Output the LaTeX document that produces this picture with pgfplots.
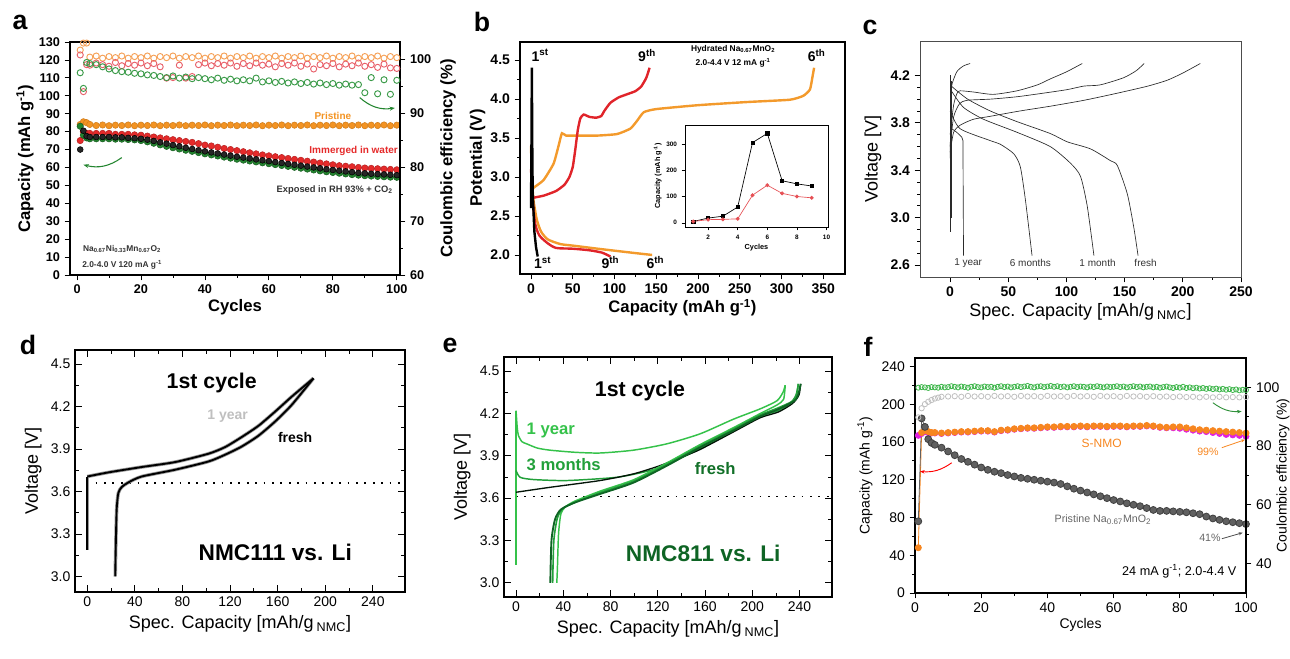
\documentclass[border=0pt]{standalone}
\usepackage{fontspec}
\setmainfont{Liberation Sans}
\usepackage{pgfplots}
\usepackage{pgfplotstable}
\pgfplotsset{compat=1.18}
\usetikzlibrary{arrows.meta}

\definecolor{aorange}{HTML}{F39322}
\definecolor{ared}{HTML}{E52A2A}
\definecolor{agreen}{HTML}{23852F}
\definecolor{ceorange}{HTML}{F5A056}
\definecolor{cered}{HTML}{E8606A}
\definecolor{cegreen}{HTML}{3A9A48}
\definecolor{borange}{HTML}{F39A2C}
\definecolor{bred}{HTML}{E0242A}
\definecolor{cline}{HTML}{2A2A2A}
\definecolor{eyear}{HTML}{35C24A}
\definecolor{emonth}{HTML}{22A03A}
\definecolor{efresh}{HTML}{0E6424}
\definecolor{fgrey}{HTML}{606060}
\definecolor{forange}{HTML}{F7861F}
\definecolor{fmag}{HTML}{E020E0}
\definecolor{fgreen}{HTML}{3DB54A}

\newcommand{\fs}[1]{\fontsize{#1}{#1}\selectfont}

\pgfplotsset{
  panel/.style={scale only axis, anchor=south west,
    /pgf/number format/assume math mode=true,
    tick style={black, line width=0.6pt},
    major tick length=4pt, minor tick length=2.2pt,
    axis line style={line width=0.8pt}},
  onedec/.style={yticklabel style={/pgf/number format/fixed,
    /pgf/number format/fixed zerofill, /pgf/number format/precision=1}},
}

% panel a: capacity and coulombic efficiency
\pgfplotstableread{
c pri imm blk grn cpri cimm cgrn
1 84.0 75.0 70.0 83.0 101.7 100.8 97.5
2 85.5 80.0 80.5 78.0 103.0 94.0 94.6
3 85.0 79.0 77.5 76.5 103.0 99.0 99.4
4 84.0 79.0 77.0 76.0 100.4 98.9 99.2
6 83.4 79.0 77.0 76.0 100.6 99.3 99.0
8 83.7 79.0 77.0 76.0 100.2 99.0 98.6
10 83.3 79.0 77.0 76.0 100.5 98.7 98.2
12 83.6 78.5 76.8 75.8 100.3 99.4 97.9
14 83.4 78.5 76.8 75.8 100.6 98.8 97.7
16 83.7 78.5 76.5 75.6 100.2 99.2 97.6
18 83.3 78.2 76.3 75.4 100.5 98.9 97.4
20 83.6 78.0 76.0 75.0 100.3 99.3 97.3
22 83.4 77.5 75.5 74.3 100.6 98.8 97.1
24 83.7 77.0 74.8 73.5 100.2 99.2 97.0
26 83.3 76.5 74.0 72.6 100.5 98.6 96.8
28 83.6 76.0 73.3 71.8 100.3 96.5 96.6
30 83.4 75.5 72.5 71.0 100.6 96.6 96.9
32 83.7 75.0 71.8 70.3 100.2 98.9 96.5
34 83.3 74.5 71.0 69.6 100.5 96.5 96.7
36 83.6 74.0 70.3 69.0 100.3 96.8 96.4
38 83.4 73.3 69.6 68.3 100.6 99.0 96.6
40 83.7 72.5 69.0 67.6 100.2 99.3 96.4
42 83.3 72.0 68.4 67.0 100.5 98.8 96.2
44 83.6 71.3 67.8 66.4 100.3 99.2 96.5
46 83.4 70.6 67.2 65.8 100.6 98.9 96.1
48 83.7 70.0 66.6 65.2 100.2 99.3 96.3
50 83.3 69.4 66.0 64.6 100.5 98.7 96.0
52 83.6 68.8 65.5 64.1 100.3 99.2 96.2
54 83.4 68.2 65.0 63.6 100.6 98.8 96.0
56 83.7 67.6 64.5 63.1 100.2 99.3 96.5
58 83.3 67.0 64.0 62.6 100.5 98.9 95.8
60 83.6 66.5 63.5 62.1 100.3 99.1 96.0
62 83.4 66.0 63.0 61.6 100.6 98.6 95.7
64 83.7 65.5 62.5 61.1 100.2 99.2 95.9
66 83.3 65.0 62.0 60.6 100.5 98.9 95.6
68 83.6 64.5 61.5 60.1 100.3 99.3 95.8
70 83.4 64.0 61.0 59.6 100.6 98.7 95.5
72 83.7 63.5 60.5 59.1 100.2 99.1 95.7
74 83.3 63.0 60.0 58.6 100.5 98.2 95.4
76 83.6 62.5 59.5 58.1 100.3 99.0 95.6
78 83.4 62.0 59.0 57.6 100.6 98.8 95.3
80 83.7 61.5 58.6 57.2 100.2 99.2 95.5
82 83.3 61.0 58.2 56.8 100.5 98.6 95.2
84 83.6 60.7 57.8 56.4 100.3 99.1 95.4
86 83.4 60.4 57.4 56.0 100.6 98.8 95.2
88 83.7 60.0 57.0 55.7 100.2 99.3 95.3
90 83.3 59.7 56.7 55.4 100.5 98.7 93.8
92 83.6 59.5 56.5 55.2 100.3 99.0 96.6
94 83.4 59.3 56.3 55.0 100.6 98.5 93.6
96 83.7 59.1 56.1 54.8 100.2 99.1 96.2
98 83.3 58.9 55.9 54.6 100.5 98.4 93.5
100 83.6 58.7 55.7 54.5 100.3 98.3 96.1
}\dataA

% panel f: capacity
\pgfplotstableread{
c snmo mag pri
1 48 167 76
2 170 169 185
3 172 171 176
4 171 170 163
5 170 169.5 159
6 170 169.5 157
8 169.5 169 154
10 170 169.5 150
12 170.5 170 146
14 171 170.5 142
16 171 170.5 139
18 171.5 171 136
20 172 171.5 133
22 172 171.5 130.5
24 171 170.5 128.5
26 172.5 172 127
28 173 172.5 125
30 174 173.5 123.5
32 174.5 174 122
34 175 174.5 121
36 175 174.5 120
38 175.5 175 119
40 176 175.5 118
42 176 175.5 117
44 176.5 176 115.5
46 176.5 176 113
48 176.5 176 110.5
50 177 176.5 108.5
52 176.5 176 106.5
54 177 176.5 104.5
56 177 176.5 102.5
58 176.5 176 100.5
60 177 176.5 98.5
62 177 176.5 97
64 176.5 176 95
66 177 176.5 93.5
68 177 176.5 92
70 177.5 177 90
72 177 176.5 88
74 176 175.5 87
76 175.5 175 87
78 176 175 86.5
80 176 174.5 86
82 175 173.5 85.5
84 174 172.5 84.5
86 173 171.5 83.5
88 172.5 171 81
90 172 170 79
92 171.5 169 77.5
94 171 168 76
96 170.5 167.5 75
98 170 167 74
100 169.5 166 73
}\dataF

\begin{document}
\begin{tikzpicture}
\path[use as bounding box] (0pt,0pt) rectangle (967.5pt,493.5pt);

% ---------------- a ----------------
\begin{axis}[panel, at={(52.5pt,287.25pt)}, width=247.5pt, height=174.75pt,
  xmin=-2.2, xmax=101, ymin=0, ymax=130,
  xtick={0,20,...,100}, minor x tick num=1, ytick={0,10,...,130},
  tick align=outside, tick pos=left,
  tick label style={font=\fs{9.5}\bfseries},
  label style={font=\fs{12.5}\bfseries},
  xlabel={Cycles}, ylabel={Capacity (mAh g\textsuperscript{-1})},
  xlabel style={yshift=3pt}, ylabel style={yshift=-3pt}]
\addplot[only marks, mark=*, mark size=2.4pt, mark options={fill=aorange, draw=aorange!85!black}] table[x=c, y=pri] {\dataA};
\addplot[only marks, mark=*, mark size=2.4pt, mark options={fill=ared, draw=ared!80!black}] table[x=c, y=imm] {\dataA};
\addplot[only marks, mark=*, mark size=2.4pt, mark options={fill=agreen, draw=agreen!70!black}] table[x=c, y=grn] {\dataA};
\addplot[only marks, mark=*, mark size=2.2pt, mark options={fill=black!85, draw=black}] table[x=c, y=blk] {\dataA};
\node[font=\fs{7.5}\bfseries, text=aorange] at (axis cs:80,89) {Pristine};
\node[font=\fs{7.5}\bfseries, text=ared] at (axis cs:86.5,69) {Immerged in water};
\node[font=\fs{7}\bfseries, text=black!80] at (axis cs:80.6,47.5) {Exposed in RH 93\% + CO\textsubscript{2}};
\node[font=\fs{6.3}\bfseries, text=black!80] at (axis cs:14.1,14.6) {Na\textsubscript{0.67}Ni\textsubscript{0.33}Mn\textsubscript{0.67}O\textsubscript{2}};
\node[font=\fs{6.3}\bfseries, text=black!80] at (axis cs:14.1,5.6) {2.0-4.0 V 120 mA g\textsuperscript{-1}};
\draw[agreen, line width=0.8pt, -{Stealth[length=4pt]}] (axis cs:88.4,99) to[bend right=25] (axis cs:99.4,93.2);
\draw[agreen, line width=0.8pt, -{Stealth[length=4pt]}] (axis cs:14,65.5) to[bend left=25] (axis cs:2,61.5);
\end{axis}
\begin{axis}[panel, at={(52.5pt,287.25pt)}, width=247.5pt, height=174.75pt,
  xmin=-2.2, xmax=101, ymin=60, ymax=103.2,
  axis x line=none, axis y line*=right, ytick={60,70,...,100}, minor y tick num=1,
  tick align=outside,
  tick label style={font=\fs{9.5}\bfseries},
  label style={font=\fs{12.5}\bfseries},
  ylabel={Coulombic efficiency (\%)}]
\addplot[only marks, mark=o, mark size=2.3pt, mark options={draw=ceorange, line width=0.7pt}] table[x=c, y=cpri] {\dataA};
\addplot[only marks, mark=o, mark size=2.3pt, mark options={draw=cered, line width=0.7pt}] table[x=c, y=cimm] {\dataA};
\addplot[only marks, mark=o, mark size=2.3pt, mark options={draw=cegreen, line width=0.7pt}] table[x=c, y=cgrn] {\dataA};
\end{axis}

% ---------------- b ----------------
\begin{axis}[panel, at={(390pt,288pt)}, width=243.75pt, height=174pt,
  xmin=-13.2, xmax=376, ymin=1.756, ymax=4.73,
  xtick={0,50,...,350}, minor x tick num=1,
  ytick={2.0,2.5,...,4.5}, minor y tick num=1, onedec,
  tick align=outside, tick pos=left,
  tick label style={font=\fs{10.5}\bfseries},
  label style={font=\fs{12.5}\bfseries},
  xlabel={Capacity (mAh g\textsuperscript{-1})}, ylabel={Potential (V)},
  xlabel style={yshift=3pt}, ylabel style={yshift=-3pt}]
\addplot[borange, line width=1.8pt, smooth, tension=0.4] coordinates {(0,3.4)(1,3.0)(3,2.7)(7,2.45)(12,2.3)(20,2.2)(35,2.14)(50,2.12)(80,2.08)(120,2.03)(145,2.0)};
\addplot[borange, line width=1.8pt, smooth, tension=0.3] coordinates {(0,2.8)(3,2.86)(15,2.96)(27,3.17)(33,3.4)(37,3.56)(42,3.53)(60,3.53)(79,3.53)(103,3.55)(119,3.62)(127,3.72)(135,3.83)(150,3.87)(200,3.92)(258,3.96)(310,3.99)(326,4.04)(334,4.12)(337,4.28)(339,4.4)};
\addplot[bred, line width=1.8pt, smooth, tension=0.4] coordinates {(0,3.1)(2,2.7)(5,2.4)(10,2.25)(20,2.15)(30,2.09)(50,2.08)(70,2.06)(85,2.03)(95,1.98)};
\addplot[bred, line width=1.8pt, smooth, tension=0.3] coordinates {(1,2.73)(15,2.76)(30,2.82)(40,2.9)(46,3.0)(50,3.13)(53,3.35)(56,3.6)(59,3.75)(63,3.8)(70,3.77)(78,3.76)(84,3.78)(88,3.85)(95,3.95)(105,4.02)(115,4.06)(125,4.1)(132,4.16)(138,4.27)(142,4.4)};
\addplot[black, line width=1.8pt] coordinates {(0,2.6)(0.5,3.4)(1,4.4)(1.5,3.4)(2,2.8)(4,2.3)(6,2.1)(8,1.98)};
\node[font=\fs{10.5}\bfseries] at (axis cs:11,4.56) {1\textsuperscript{st}};
\node[font=\fs{10.5}\bfseries] at (axis cs:139,4.56) {9\textsuperscript{th}};
\node[font=\fs{10.5}\bfseries] at (axis cs:342,4.56) {6\textsuperscript{th}};
\node[font=\fs{10.5}\bfseries] at (axis cs:14,1.9) {1\textsuperscript{st}};
\node[font=\fs{10.5}\bfseries] at (axis cs:95,1.9) {9\textsuperscript{th}};
\node[font=\fs{10.5}\bfseries] at (axis cs:149,1.9) {6\textsuperscript{th}};
\node[font=\fs{6.3}\bfseries] at (axis cs:242,4.64) {Hydrated Na\textsubscript{0.67}MnO\textsubscript{2}};
\node[font=\fs{6.3}\bfseries] at (axis cs:242,4.46) {2.0-4.4 V 12 mA g\textsuperscript{-1}};
\end{axis}
\begin{axis}[panel, at={(513.75pt,323.25pt)}, width=107.25pt, height=76.5pt,
  axis background/.style={fill=white},
  axis line style={line width=0.5pt}, tick style={line width=0.4pt},
  major tick length=2.5pt,
  xmin=0.44, xmax=10.1, ymin=-16, ymax=372,
  xtick={2,4,...,10}, ytick={0,100,200,300},
  tick align=outside, tick pos=left,
  tick label style={font=\fs{4.8}\bfseries},
  label style={font=\fs{5.5}\bfseries},
  xlabel={Cycles}, ylabel={Capacity (mAh g\textsuperscript{-1})},
  xlabel style={at={(axis description cs:0.5,-0.2)}, anchor=center},
  ylabel style={at={(axis description cs:-0.19,0.5)}, anchor=center}]
\addplot[black, line width=0.5pt, mark=square*, mark size=1.2pt] coordinates {(1,5)(2,18)(3,25)(4,60)(5,305)(6,340)(7,160)(8,148)(9,140)};
\addplot[bred!80, line width=0.5pt, mark=*, mark size=1.2pt] coordinates {(1,5)(2,12)(3,13)(4,15)(5,105)(6,143)(7,112)(8,100)(9,95)};
\end{axis}

% ---------------- c ----------------
\begin{axis}[panel, at={(690pt,285.75pt)}, width=240.75pt, height=177pt,
  xmin=-25.9, xmax=250, ymin=2.5, ymax=4.49,
  xtick={0,50,...,250}, minor x tick num=1,
  ytick={2.6,3.0,...,4.2}, minor y tick num=3, onedec,
  axis line style={line width=0.7pt, black!70},
  tick align=outside, tick pos=left,
  tick label style={font=\fs{10.5}\bfseries},
  label style={font=\fs{13.5}},
  xlabel={Spec. Capacity [mAh/g\,\textsubscript{NMC}]}, ylabel={Voltage [V]},
  xlabel style={yshift=2pt}]
\addplot[cline, line width=0.5pt] coordinates {(0,2.88)(0,4.2)};
\addplot[cline, line width=0.5pt] coordinates {(1,3.0)(1,4.15)};
\addplot[cline, line width=0.5pt, smooth, tension=0.4] coordinates {(0,3.55)(3,3.72)(8.6,3.78)(20,3.83)(34.5,3.855)(60,3.9)(86,3.94)(115,3.99)(143.7,4.05)(170,4.11)(186.8,4.16)(200,4.22)(215,4.30)};
\addplot[cline, line width=0.5pt, smooth, tension=0.4] coordinates {(0,3.6)(3,3.85)(8,3.96)(14.4,3.99)(35,4.0)(57.5,4.02)(80,4.05)(100.6,4.08)(115,4.11)(129,4.12)(149,4.18)(160,4.24)(166.7,4.30)};
\addplot[cline, line width=0.5pt, smooth, tension=0.4] coordinates {(0,3.7)(3,3.95)(6,4.05)(8.6,4.07)(20,4.06)(37,4.04)(57.5,4.07)(75,4.12)(86,4.17)(100,4.23)(113.5,4.30)};
\addplot[cline, line width=0.5pt, smooth, tension=0.4] coordinates {(0,3.5)(0.5,3.9)(1,4.1)(5.7,4.23)(11.5,4.28)(17.2,4.30)};
\addplot[cline, line width=0.5pt, smooth, tension=0.4] coordinates {(1,4.11)(15,4.0)(34.5,3.9)(57.5,3.81)(86,3.71)(100.6,3.64)(120.7,3.58)(137.9,3.48)(143.7,3.44)(152.3,3.2)(158,2.91)(161.5,2.68)};
\addplot[cline, line width=0.5pt, smooth, tension=0.4] coordinates {(1,4.07)(11.5,3.93)(28.7,3.83)(57.5,3.72)(86,3.6)(103.4,3.46)(112,3.35)(117.8,3.1)(123.6,2.68)};
\addplot[cline, line width=0.5pt, smooth, tension=0.4] coordinates {(0,3.9)(8.6,3.75)(34.5,3.65)(43,3.62)(54.6,3.54)(60.3,3.43)(64.7,3.15)(70.4,2.68)};
\addplot[cline, line width=0.5pt] coordinates {(0,3.76)(5.7,3.72)(10,3.68)(11,3.65)(11.5,2.68)};
\node[font=\fs{7.5}, text=black!80] at (axis cs:15.5,2.62) {1 year};
\node[font=\fs{7.5}, text=black!80] at (axis cs:69,2.62) {6 months};
\node[font=\fs{7.5}, text=black!80] at (axis cs:126.7,2.62) {1 month};
\node[font=\fs{7.5}, text=black!80] at (axis cs:168,2.62) {fresh};
\end{axis}

% ---------------- d ----------------
\begin{axis}[panel, at={(56.25pt,49.5pt)}, width=247.5pt, height=181.5pt,
  xmin=-10.3, xmax=267, ymin=2.89, ymax=4.6,
  xtick={0,40,...,240}, minor x tick num=1,
  ytick={3.0,3.3,...,4.5}, minor y tick num=1, onedec,
  axis line style={line width=1.3pt},
  tick align=inside, tick pos=both,
  major tick length=5pt, minor tick length=3pt,
  tick label style={font=\fs{10.5}},
  label style={font=\fs{13.5}},
  xlabel={Spec. Capacity [mAh/g\,\textsubscript{NMC}]}, ylabel={Voltage [V]}]
\addplot[black, line width=1pt, dash pattern=on 1.3pt off 5pt] coordinates {(0,3.66)(267,3.66)};
\addplot[black!40, line width=2.6pt] coordinates {(0,3.19)(0,3.706)};
\addplot[black!40, line width=2.6pt, smooth, tension=0.4] coordinates {(0,3.706)(17.7,3.735)(45.7,3.773)(73.8,3.808)(101.8,3.867)(115.8,3.914)(129.8,3.985)(143.8,4.064)(157.9,4.165)(171.9,4.271)(190.1,4.40)};
\addplot[black!40, line width=2.6pt, smooth, tension=0.4] coordinates {(190.1,4.40)(171.9,4.213)(157.9,4.095)(143.8,3.994)(129.8,3.918)(115.8,3.86)(101.8,3.812)(73.8,3.754)(45.7,3.706)(34.5,3.664)(28.9,3.631)(26.1,3.589)(24.7,3.471)(23.9,3.19)(23.5,3.0)};
\addplot[black, line width=1.4pt] coordinates {(0,3.19)(0,3.706)};
\addplot[black, line width=1.4pt, smooth, tension=0.4] coordinates {(0,3.706)(17.7,3.735)(45.7,3.773)(73.8,3.808)(101.8,3.867)(115.8,3.914)(129.8,3.985)(143.8,4.064)(157.9,4.165)(171.9,4.271)(190.1,4.40)};
\addplot[black, line width=1.4pt, smooth, tension=0.4] coordinates {(190.1,4.40)(171.9,4.213)(157.9,4.095)(143.8,3.994)(129.8,3.918)(115.8,3.86)(101.8,3.812)(73.8,3.754)(45.7,3.706)(34.5,3.664)(28.9,3.631)(26.1,3.589)(24.7,3.471)(23.9,3.19)(23.5,3.0)};
\node[font=\fs{16}\bfseries] at (axis cs:104.6,4.37) {1st cycle};
\node[font=\fs{10.5}\bfseries, text=black!25] at (axis cs:118,4.13) {1 year};
\node[font=\fs{10.5}\bfseries] at (axis cs:174.7,3.98) {fresh};
\node[font=\fs{17}\bfseries] at (axis cs:158,3.17) {NMC111 vs. Li};
\end{axis}

% ---------------- e ----------------
\begin{axis}[panel, at={(378pt,45.75pt)}, width=246pt, height=180pt,
  xmin=-10.2, xmax=267.5, ymin=2.9, ymax=4.6,
  xtick={0,40,...,240}, minor x tick num=1,
  ytick={3.0,3.3,...,4.5}, minor y tick num=1, onedec,
  axis line style={line width=1.3pt},
  tick align=inside, tick pos=both,
  major tick length=5pt, minor tick length=3pt,
  tick label style={font=\fs{10.5}},
  label style={font=\fs{13.5}},
  xlabel={Spec. Capacity [mAh/g\,\textsubscript{NMC}]}, ylabel={Voltage [V]}]
\addplot[black, line width=1pt, dash pattern=on 1.3pt off 5pt] coordinates {(0,3.61)(267.5,3.61)};
\addplot[eyear, line width=1.1pt] coordinates {(0,3.13)(0,4.22)};
\addplot[eyear, line width=1.1pt, smooth, tension=0.4] coordinates {(0,4.22)(1,4.1)(2,4.044)(5,4.0)(9,3.985)(18,3.955)(28.8,3.94)(50,3.925)(71.2,3.92)(99.4,3.94)(127.7,3.985)(155.9,4.056)(184.2,4.16)(206.8,4.233)(220.9,4.29)(226,4.35)(227.9,4.40)};
\addplot[emonth, line width=1.1pt, smooth, tension=0.4] coordinates {(0,3.796)(3.4,3.748)(14.7,3.732)(43,3.725)(85.3,3.748)(113.6,3.796)(127.7,3.84)(155.9,3.95)(184.2,4.08)(206.8,4.18)(222,4.22)(232,4.27)(237,4.33)(239,4.41)};
\addplot[black!80!efresh, line width=1pt, smooth, tension=0.4] coordinates {(0,3.642)(28.8,3.677)(71.2,3.725)(99.4,3.772)(122,3.831)(140,3.89)(155.9,3.945)(184.2,4.07)(206.8,4.17)(222,4.21)(234,4.27)(239.5,4.33)(241,4.41)};
\addplot[eyear, line width=1.1pt, smooth, tension=0.4] coordinates {(227.9,4.40)(226.5,4.30)(220.9,4.26)(206.8,4.2)(184.2,4.1)(155.9,3.98)(127.7,3.85)(99.4,3.73)(71.2,3.65)(50,3.58)(42,3.54)(38,3.49)(36,3.35)(35,3.1)(34.5,3.0)};
\addplot[emonth, line width=1.2pt, smooth, tension=0.4] coordinates {(239,4.41)(236,4.3)(222,4.24)(206.8,4.19)(184.2,4.09)(155.9,3.97)(127.7,3.84)(99.4,3.72)(71.2,3.64)(50,3.57)(40,3.53)(35,3.46)(32,3.3)(31,3.0)};
\addplot[efresh, line width=1.4pt, smooth, tension=0.4] coordinates {(241,4.41)(237,4.3)(222,4.23)(206.8,4.18)(184.2,4.08)(155.9,3.96)(127.7,3.83)(99.4,3.71)(71.2,3.63)(50,3.57)(38,3.52)(33,3.45)(30,3.3)(29,3.0)};
\node[font=\fs{16}\bfseries] at (axis cs:105,4.36) {1st cycle};
\node[font=\fs{12.5}\bfseries, text=eyear, anchor=west] at (axis cs:5,4.08) {1 year};
\node[font=\fs{12.5}\bfseries, text=emonth, anchor=west] at (axis cs:5,3.84) {3 months};
\node[font=\fs{12.5}\bfseries, text=efresh!80!emonth] at (axis cs:168.6,3.81) {fresh};
\node[font=\fs{17}\bfseries, text=efresh] at (axis cs:158.5,3.21) {NMC811 vs. Li};
\end{axis}

% ---------------- f ----------------
\begin{axis}[panel, at={(686.25pt,48.75pt)}, width=248.25pt, height=176.25pt,
  xmin=0, xmax=100, ymin=0, ymax=249, clip=false,
  xtick={0,20,...,100}, minor x tick num=1,
  ytick={0,40,...,240}, minor y tick num=1,
  tick align=outside, tick pos=left,
  tick label style={font=\fs{10.5}},
  label style={font=\fs{10.5}},
  xlabel={Cycles}, ylabel={Capacity (mAh g\textsuperscript{-1})},
  xlabel style={yshift=3pt}]
\addplot[fmag, line width=0.5pt, mark=*, mark size=2.3pt, mark options={fill=fmag, draw=fmag}] table[x=c, y=mag] {\dataF};
\addplot[forange, line width=0.6pt, mark=*, mark size=2.3pt, mark options={fill=forange, draw=forange}] table[x=c, y=snmo] {\dataF};
\addplot[fgrey, line width=0.6pt, mark=*, mark size=2.6pt, mark options={fill=fgrey, draw=black!75}] table[x=c, y=pri] {\dataF};
\node[font=\fs{9}, text=forange] at (axis cs:56.4,158.9) {S-NMO};
\node[font=\fs{8}, text=forange] at (axis cs:88.5,150) {99\%};
\draw[forange, line width=0.6pt, -{Stealth[length=3pt]}] (axis cs:92.7,154) -- (axis cs:99.7,162.4);
\node[font=\fs{8}, text=black!60] at (axis cs:56.8,77.6) {Pristine Na\textsubscript{0.67}MnO\textsubscript{2}};
\node[font=\fs{8}, text=black!60] at (axis cs:89.1,58.6) {41\%};
\draw[black!70, line width=0.6pt, -{Stealth[length=3pt]}] (axis cs:92.7,57.5) -- (axis cs:99,63.9);
\node[font=\fs{9.5}, anchor=east] at (axis cs:98.5,22.6) {24 mA g\textsuperscript{-1}; 2.0-4.4 V};
\draw[red, line width=0.7pt, -{Stealth[length=3.5pt]}] (axis cs:11.1,138) to[bend left=20] (axis cs:1.5,128.8);
\draw[fgreen!80!black, line width=0.7pt, -{Stealth[length=3.5pt]}] (axis cs:90,201.6) to[bend right=20] (axis cs:98.7,192.4);
\end{axis}
\begin{axis}[panel, at={(686.25pt,48.75pt)}, width=248.25pt, height=176.25pt,
  xmin=0, xmax=100, ymin=30, ymax=110, clip=false,
  axis x line=none, axis y line*=right, ytick={40,60,...,100}, minor y tick num=1,
  tick align=outside,
  tick label style={font=\fs{10.5}},
  label style={font=\fs{10.5}},
  ylabel={Coulombic efficiency (\%)},
  ylabel style={at={(axis description cs:1.112,0.5)}, anchor=center}]
\addplot[only marks, mark=o, mark size=2pt, mark options={draw=black!25, line width=0.6pt}] coordinates {(1,89.8)(2,92.9)(3,94.3)(4,95.1)(5,95.7)(6,96.2)(7,96.5)(8,96.8)(10,96.9)(12,97.0)(14,96.8)(16,97.1)(18,96.9)(20,97.0)(22,96.8)(24,97.1)(26,96.9)(28,97.0)(30,96.8)(32,97.1)(34,96.9)(36,97.0)(38,96.8)(40,97.1)(42,96.9)(44,97.0)(46,96.8)(48,97.1)(50,96.9)(52,97.0)(54,96.8)(56,97.1)(58,96.9)(60,97.0)(62,96.8)(64,97.1)(66,96.9)(68,97.0)(70,96.8)(72,97.0)(74,96.8)(76,96.9)(78,96.7)(80,96.9)(82,96.7)(84,96.8)(86,96.6)(88,96.8)(90,96.6)(92,96.8)(94,96.6)(96,96.7)(98,96.6)(100,96.7)};
\addplot[only marks, mark=o, mark size=1.9pt, mark options={draw=fgreen, line width=0.6pt}] coordinates {(1,99.9)(2,100.1)(3,100.0)(4,99.8)(5,100.1)(6,100.0)(7,99.9)(8,100.2)(9,100.0)(10,100.1)(11,100.4)(12,100.2)(13,100.0)(14,100.3)(15,100.1)(16,99.9)(17,100.2)(18,100.4)(19,100.1)(20,100.0)(21,100.3)(22,100.1)(23,100.2)(24,99.9)(25,100.2)(26,100.4)(27,100.1)(28,100.3)(29,100.0)(30,100.2)(31,100.4)(32,100.1)(33,100.3)(34,100.5)(35,100.2)(36,100.0)(37,100.3)(38,100.4)(39,100.1)(40,100.3)(41,100.5)(42,100.2)(43,100.4)(44,100.1)(45,100.3)(46,100.0)(47,100.2)(48,100.4)(49,100.1)(50,100.3)(51,100.2)(52,100.0)(53,100.3)(54,100.1)(55,100.4)(56,100.2)(57,100.0)(58,100.3)(59,100.1)(60,100.2)(61,100.4)(62,100.1)(63,100.3)(64,100.0)(65,100.2)(66,100.4)(67,100.1)(68,100.3)(69,100.0)(70,100.2)(71,100.3)(72,100.0)(73,100.2)(74,99.9)(75,100.1)(76,100.3)(77,100.0)(78,99.8)(79,100.1)(80,99.9)(81,100.2)(82,99.8)(83,100.0)(84,99.7)(85,99.9)(86,99.6)(87,99.8)(88,99.5)(89,99.7)(90,99.4)(91,99.6)(92,99.3)(93,99.5)(94,99.2)(95,99.4)(96,99.1)(97,99.3)(98,99.0)(99,99.2)(100,99.1)};
\end{axis}

% panel letters
\node[font=\fs{20}\bfseries] at (15pt,477pt) {a};
\node[font=\fs{20}\bfseries] at (361.5pt,477pt) {b};
\node[font=\fs{20}\bfseries] at (652.5pt,473.25pt) {c};
\node[font=\fs{20}\bfseries] at (21pt,234.75pt) {d};
\node[font=\fs{20}\bfseries] at (337.5pt,234.75pt) {e};
\node[font=\fs{20}\bfseries] at (651pt,233.25pt) {f};
\end{tikzpicture}
\end{document}
